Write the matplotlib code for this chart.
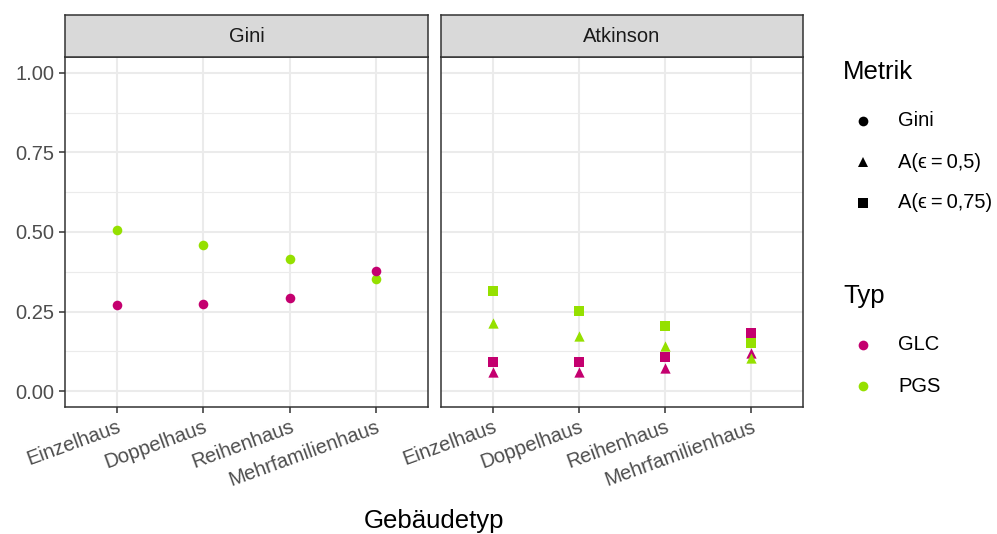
import numpy as np
import matplotlib
matplotlib.use('Agg')
import matplotlib.pyplot as plt
from matplotlib.lines import Line2D

plt.rcParams['font.family'] = ['Liberation Sans', 'DejaVu Sans']

# data
gebaeude = ['Einzelhaus', 'Doppelhaus', 'Reihenhaus', 'Mehrfamilienhaus']
gini_glc = [0.271, 0.274, 0.293, 0.378]
gini_pgs = [0.505, 0.459, 0.414, 0.353]
a05_glc = [0.061, 0.061, 0.073, 0.121]
a05_pgs = [0.213, 0.173, 0.141, 0.105]
a075_glc = [0.092, 0.092, 0.108, 0.183]
a075_pgs = [0.316, 0.253, 0.206, 0.152]

metrik_labels = ['Gini', 'A(ϵ\u2009=\u20090,5)', 'A(ϵ\u2009=\u20090,75)']
metrik_markers = ['o', '^', 's']
typ_labels = ['GLC', 'PGS']

col_glc = '#c4006f'
col_pgs = '#95e000'
grey20 = '#333333'
grey30 = '#4d4d4d'

W, H = 997, 534
fig = plt.figure(figsize=(W / 100, H / 100), dpi=100)

def px(x0, y0, x1, y1):
    return [x0 / W, 1 - y1 / H, (x1 - x0) / W, (y1 - y0) / H]

panels = [('Gini', 65, 428), ('Atkinson', 441, 803)]
axes = []
for name, x0, x1 in panels:
    ax = fig.add_axes(px(x0, 57, x1, 407))
    ax.set_xlim(0.4, 4.6)
    ax.set_ylim(-0.05, 1.05)
    ax.set_xticks(range(1, 5))
    ax.set_yticks([0, 0.25, 0.5, 0.75, 1.0])
    ax.set_yticks([0.125, 0.375, 0.625, 0.875], minor=True)
    ax.grid(True, which='major', color='#ebebeb', lw=1.5)
    ax.grid(True, which='minor', axis='y', color='#ebebeb', lw=0.8)
    ax.set_axisbelow(True)
    for s in ax.spines.values():
        s.set_color(grey20)
        s.set_linewidth(1.1)
    ax.tick_params(which='major', length=4.5, width=1.1, color=grey20,
                   labelcolor=grey30, labelsize=14.5, pad=3)
    ax.tick_params(which='minor', length=0)
    ax.set_xticklabels(gebaeude, rotation=20, ha='right', rotation_mode='anchor')
    # strip
    sax = fig.add_axes(px(x0, 15, x1, 57))
    sax.set_xticks([])
    sax.set_yticks([])
    sax.set_facecolor('#d9d9d9')
    for s in sax.spines.values():
        s.set_color(grey20)
        s.set_linewidth(1.1)
    sax.text(0.5, 0.48, name, ha='center', va='center', fontsize=14.5, color='#1a1a1a')
    axes.append(ax)

axes[0].set_yticklabels(['0.00', '0.25', '0.50', '0.75', '1.00'])
axes[1].tick_params(axis='y', left=False, labelleft=False)

x = np.arange(1, 5)
ax = axes[0]
ax.scatter(x, gini_pgs, marker='o', s=48, color=col_pgs, linewidths=0, zorder=3)
ax.scatter(x, gini_glc, marker='o', s=48, color=col_glc, linewidths=0, zorder=3)

ax = axes[1]
ax.scatter(x, a075_glc, marker='s', s=52, color=col_glc, linewidths=0, zorder=3)
ax.scatter(x, a05_glc, marker='^', s=55, color=col_glc, linewidths=0, zorder=3)
ax.scatter(x, a075_pgs, marker='s', s=52, color=col_pgs, linewidths=0, zorder=3)
ax.scatter(x, a05_pgs, marker='^', s=55, color=col_pgs, linewidths=0, zorder=3)

fig.text(434 / W, 1 - 521 / H, 'Gebäudetyp', ha='center', va='center', fontsize=18.5)

# legends (drawn as key + text, ggplot style)
def legend_block(title, labels, markers, colors, y_title, y_first, step):
    fig.text(843 / W, 1 - y_title / H, title, ha='left', va='center', fontsize=18.5)
    for i, (lab, m, c) in enumerate(zip(labels, markers, colors)):
        y = 1 - (y_first + i * step) / H
        ms = 7.5 if m == '^' else 7
        fig.add_artist(Line2D([863 / W], [y], ls='', marker=m, ms=ms, color=c, mew=0,
                              transform=fig.transFigure))
        fig.text(898 / W, y, lab, ha='left', va='center', fontsize=14.5)

legend_block('Metrik', metrik_labels, metrik_markers, ['black'] * 3, 72, 121, 41)
legend_block('Typ', typ_labels, ['o', 'o'], [col_glc, col_pgs], 296, 345, 41)

fig.savefig('out.png', dpi=100)
